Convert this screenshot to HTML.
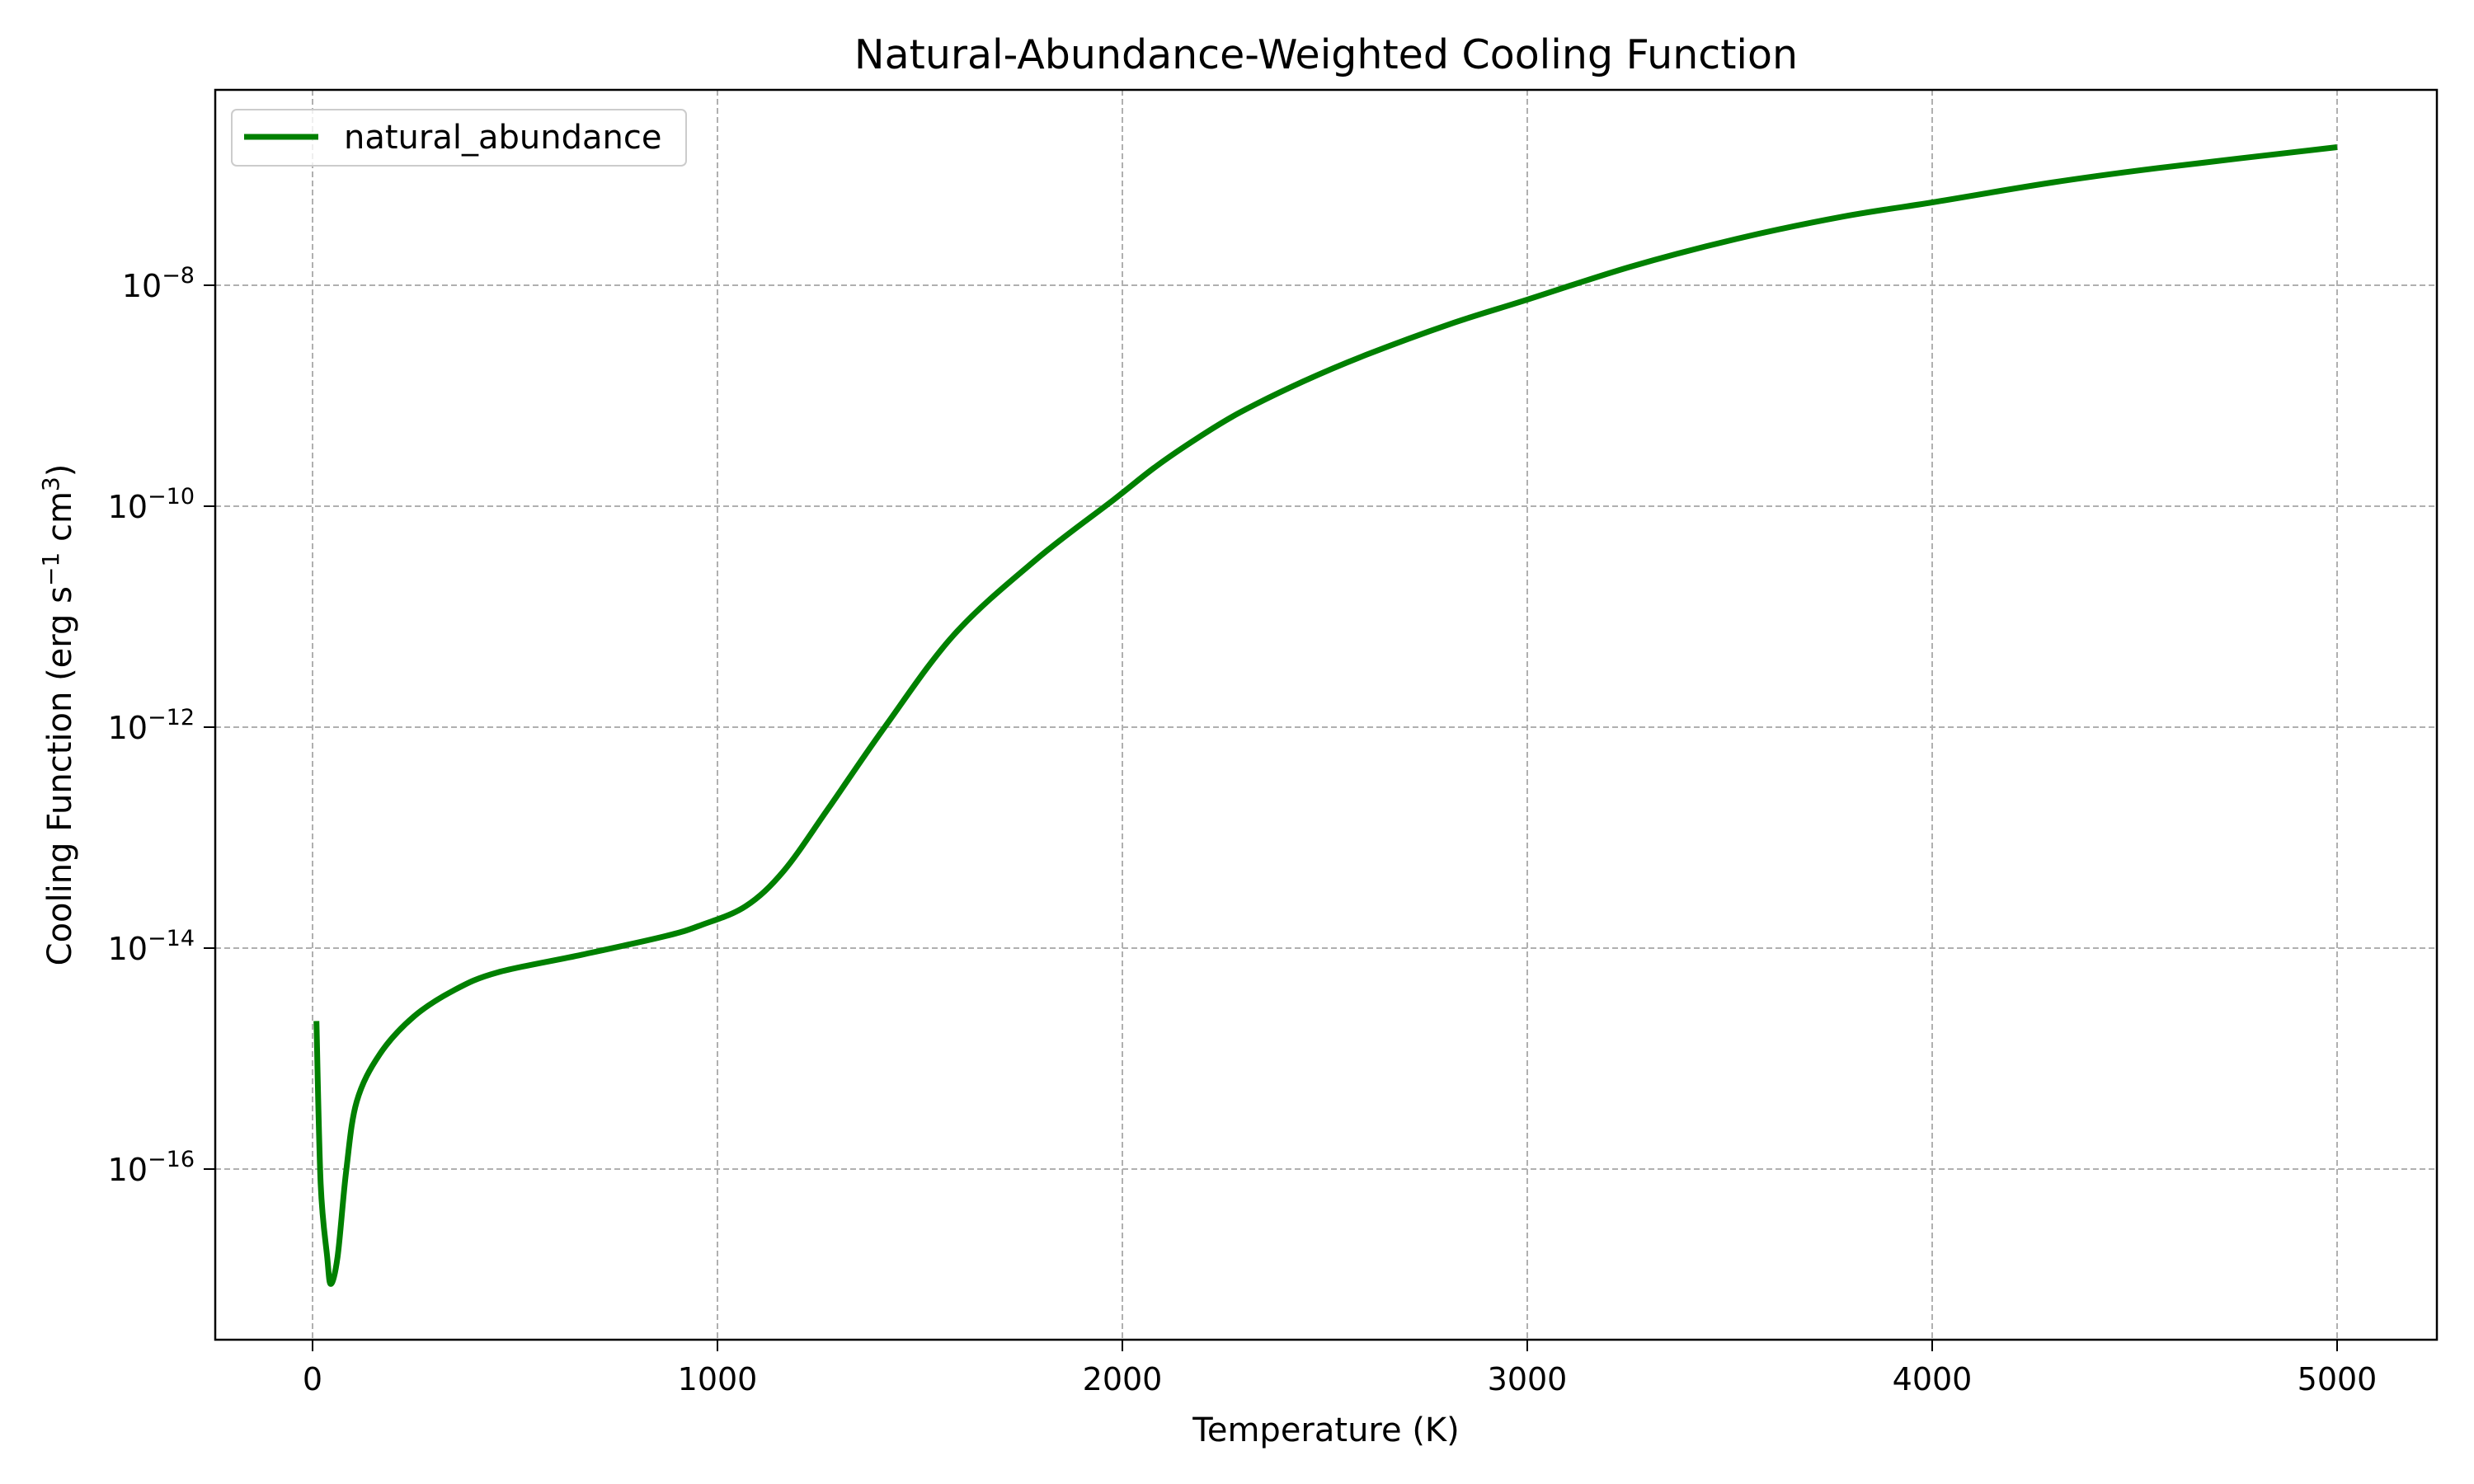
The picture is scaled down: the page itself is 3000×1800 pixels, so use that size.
<!DOCTYPE html>
<html><head><meta charset="utf-8"><style>
body{margin:0;background:#fff;}
svg{display:block;font-family:"DejaVu Sans","Liberation Sans",sans-serif;}
</style></head><body>
<svg id="chart" width="3000" height="1800">
<rect width="3000" height="1800" fill="#fff"/>
<g id="grid"></g>
<g id="curve"></g>
<rect x="261" y="109" width="2694" height="1516" fill="none" stroke="#000" stroke-width="2.5"/>
<g id="ticks"></g>
<text x="1608" y="83" font-size="49" text-anchor="middle">Natural-Abundance-Weighted Cooling Function</text>
<text x="1608" y="1748" font-size="40" text-anchor="middle">Temperature (K)</text>
<text transform="translate(86,867) rotate(-90)" font-size="40" text-anchor="middle">Cooling Function (erg s<tspan dy="-15" font-size="28">−1</tspan><tspan dy="15"> cm</tspan><tspan dy="-15" font-size="28">3</tspan><tspan dy="15">)</tspan></text>
<g>
<rect x="281" y="133" width="551" height="68" rx="6" fill="#fff" fill-opacity="0.8" stroke="#ccc" stroke-width="2"/>
<line x1="296" y1="166" x2="386" y2="166" stroke="#008000" stroke-width="7"/>
<text x="417" y="180" font-size="40">natural_abundance</text>
</g>
</svg>
<script>
const temps=[9.6,20,36,45,62,83,109,166,250,350,457,665,873,961,1070,1164,1273,1413,1585,1788,1979,2083,2187,2291,2447,2602,2810,3000,3257,3517,3777,4000,4296,4556,5000];
const logVals=[-14.66,-16.13,-16.79,-17.04,-16.79,-16.02,-15.39,-14.96,-14.62,-14.38,-14.22,-14.06,-13.89,-13.79,-13.62,-13.30,-12.74,-12.0,-11.16,-10.48,-9.94,-9.64,-9.38,-9.15,-8.87,-8.63,-8.35,-8.13,-7.83,-7.58,-7.38,-7.25,-7.07,-6.94,-6.75];
const xTicks=[0,1000,2000,3000,4000,5000];
const yTickExps=[-16,-14,-12,-10,-8];
const NS="http://www.w3.org/2000/svg";
function sx(t){return 379+t*0.491;}
function sy(l){return 346+(-8-l)*134;}
const grid=document.getElementById('grid'),ticks=document.getElementById('ticks'),curve=document.getElementById('curve');
function mk(tag,attrs,parent){const e=document.createElementNS(NS,tag);for(const k in attrs)e.setAttribute(k,attrs[k]);parent.appendChild(e);return e;}
xTicks.forEach(t=>{
  const x=sx(t);
  const g=mk('line',{x1:x,x2:x,y1:109,y2:1625,stroke:'#b0b0b0','stroke-width':2,'stroke-dasharray':'7,4'},grid);
  
  
  const tk=mk('line',{x1:x,x2:x,y1:1625,y2:1639,stroke:'#000','stroke-width':2},ticks);
  
  
  const lb=mk('text',{x:x,y:1686,'font-size':38,'text-anchor':'middle'},ticks);
  lb.textContent=t;
  
  
});
yTickExps.forEach(e=>{
  const y=sy(e);
  const g=mk('line',{x1:261,x2:2955,y1:y,y2:y,stroke:'#b0b0b0','stroke-width':2,'stroke-dasharray':'7,4'},grid);
  
  
  const tk=mk('line',{x1:247,x2:261,y1:y,y2:y,stroke:'#000','stroke-width':2},ticks);
  
  
  const lb=mk('text',{x:236,y:y+14,'font-size':38,'text-anchor':'end'},ticks);
  lb.innerHTML='10<tspan dy="-17" font-size="27">−'+Math.abs(e)+'</tspan>';
  
  
});
const P=temps.map((t,i)=>[sx(t),sy(logVals[i])]);
let d='M'+P[0][0]+','+P[0][1];
for(let i=0;i<P.length-1;i++){
  const p0=P[Math.max(i-1,0)],p1=P[i],p2=P[i+1],p3=P[Math.min(i+2,P.length-1)];
  const c1=[p1[0]+(p2[0]-p0[0])/6,p1[1]+(p2[1]-p0[1])/6];
  const c2=[p2[0]-(p3[0]-p1[0])/6,p2[1]-(p3[1]-p1[1])/6];
  d+=' C'+c1[0]+','+c1[1]+' '+c2[0]+','+c2[1]+' '+p2[0]+','+p2[1];
}
const path=mk('path',{d:d,fill:'none',stroke:'#008000','stroke-width':7,'stroke-linejoin':'round'},curve);


</script>
</body></html>
